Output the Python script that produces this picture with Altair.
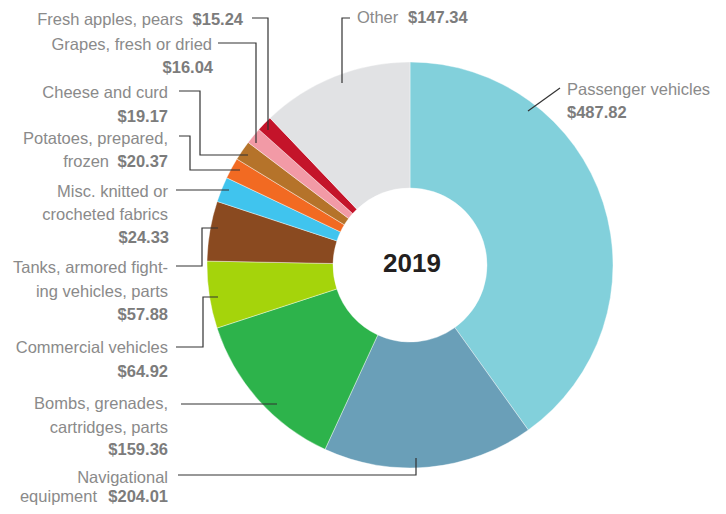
import altair as alt
import pandas as pd

# ---- data -------------------------------------------------------------
categories = [
    "Passenger vehicles", "Navigational equipment", "Bombs, grenades, cartridges, parts",
    "Commercial vehicles", "Tanks, armored fighting vehicles, parts",
    "Misc. knitted or crocheted fabrics", "Potatoes, prepared, frozen",
    "Cheese and curd", "Grapes, fresh or dried", "Fresh apples, pears", "Other",
]
values = [487.82, 204.01, 159.36, 64.92, 57.88, 24.33, 20.37, 19.17, 16.04, 15.24, 147.34]
colors = ["#82d0db", "#6a9fb8", "#2db34b", "#a5d40b", "#8a4a20", "#40c4ee",
          "#f26a22", "#b5732a", "#f29aa6", "#c4142a", "#e1e2e4"]
label_lines = [
    ["Passenger vehicles"],
    ["Navigational", "equipment"],
    ["Bombs, grenades,", "cartridges, parts"],
    ["Commercial vehicles"],
    ["Tanks, armored fight-", "ing vehicles, parts"],
    ["Misc. knitted or", "crocheted fabrics"],
    ["Potatoes, prepared,", "frozen"],
    ["Cheese and curd"],
    ["Grapes, fresh or dried"],
    ["Fresh apples, pears"],
    ["Other"],
]
center_title = "2019"

# ---- layout (page pixel coordinates) -------------------------------------
M = 8  # page margin
W, H = 726 - 2 * M, 514 - 2 * M
CX, CY, R_OUT, R_IN = 410, 265, 203, 77

# per category: (list of (x, baseline) for each label line, value (x, baseline), align)
text_layout = [
    ([(567, 95)], (567, 118), "left"),
    ([(168, 483), (97, 502)], (168, 502), "right"),
    ([(168, 409), (168, 433)], (168, 455), "right"),
    ([(168, 353)], (168, 377), "right"),
    ([(168, 273), (168, 297)], (168, 320), "right"),
    ([(168, 197), (168, 220)], (169, 243), "right"),
    ([(168, 144), (109, 167)], (168, 167), "right"),
    ([(168, 98)], (168, 122), "right"),
    ([(212, 50)], (213, 73), "right"),
    ([(183, 25)], (243, 25), "right"),
    ([(357, 23)], (408, 23), "left"),
]
leader_layout = [
    [(560, 88), (528, 111)],
    [(178, 475), (416, 475), (416, 458)],
    [(181, 404), (277, 404)],
    [(176, 347), (203, 347), (203, 297), (218, 297)],
    [(176, 266), (202, 266), (202, 228), (218, 228)],
    [(176, 190), (229, 190)],
    [(179, 136), (190, 136), (190, 170), (240, 170)],
    [(179, 91), (200, 91), (200, 155), (248, 155)],
    [(218, 43), (256, 43), (256, 143)],
    [(252, 18), (268, 18), (268, 130)],
    [(350, 18), (342, 18), (342, 83)],
]

FONT = "'Liberation Sans', Arial, sans-serif"
FSIZE = 16.5

# ---- tables ---------------------------------------------------------------
slices = pd.DataFrame({"category": categories, "value": values, "idx": range(len(values))})

text_rows = []
for i, (lpos, vpos, al) in enumerate(text_layout):
    for s, (x, y) in zip(label_lines[i], lpos):
        text_rows.append({"t": s, "x": x - M, "y": y - M, "bold": "n", "al": al})
    text_rows.append({"t": f"${values[i]:.2f}", "x": vpos[0] - M, "y": vpos[1] - M,
                      "bold": "b", "al": al})
texts = pd.DataFrame(text_rows)

line_rows = []
for i, pts in enumerate(leader_layout):
    for j, (x, y) in enumerate(pts):
        line_rows.append({"id": i, "k": j, "x": x - M, "y": y - M})
lines = pd.DataFrame(line_rows)

xs = alt.Scale(domain=[0, W], range=[0, W], nice=False, zero=False)
ys = alt.Scale(domain=[0, H], range=[0, H], nice=False, zero=False)

donut = alt.Chart(slices).mark_arc(
    outerRadius=R_OUT, innerRadius=R_IN, stroke="#ffffff", strokeWidth=0.4
).encode(
    theta=alt.Theta("value:Q", stack=True),
    order=alt.Order("idx:Q"),
    color=alt.Color("category:N", scale=alt.Scale(domain=categories, range=colors), legend=None),
    x=alt.value(CX - M),
    y=alt.value(CY - M),
)

leaders = alt.Chart(lines).mark_line(color="#333333", strokeWidth=1.2).encode(
    x=alt.X("x:Q", scale=xs, axis=None),
    y=alt.Y("y:Q", scale=ys, axis=None),
    detail="id:N",
    order="k:Q",
)

def text_layer(bold, al):
    d = texts[(texts["bold"] == bold) & (texts["al"] == al)]
    return alt.Chart(d).mark_text(
        align=al, baseline="alphabetic", font=FONT, fontSize=FSIZE,
        fontWeight="bold" if bold == "b" else "normal",
        color="#7c7c7c" if bold == "b" else "#8a8a8a",
    ).encode(
        x=alt.X("x:Q", scale=xs, axis=None),
        y=alt.Y("y:Q", scale=ys, axis=None),
        text="t:N",
    )

center = alt.Chart(pd.DataFrame({"t": [center_title]})).mark_text(
    font="'Liberation Sans', Arial, sans-serif", fontSize=26, fontWeight="bold",
    color="#231f20", align="center", baseline="middle",
).encode(text="t:N", x=alt.value(CX + 2 - M), y=alt.value(CY - 1 - M))

chart = alt.layer(
    donut, leaders,
    text_layer("n", "right"), text_layer("b", "right"),
    text_layer("n", "left"), text_layer("b", "left"),
    center,
).properties(
    width=W, height=H, autosize=alt.AutoSizeParams(type="none"), padding=0,
).configure_view(stroke=None)

chart.save("out.html", embed_options={"renderer": "svg", "actions": False})
